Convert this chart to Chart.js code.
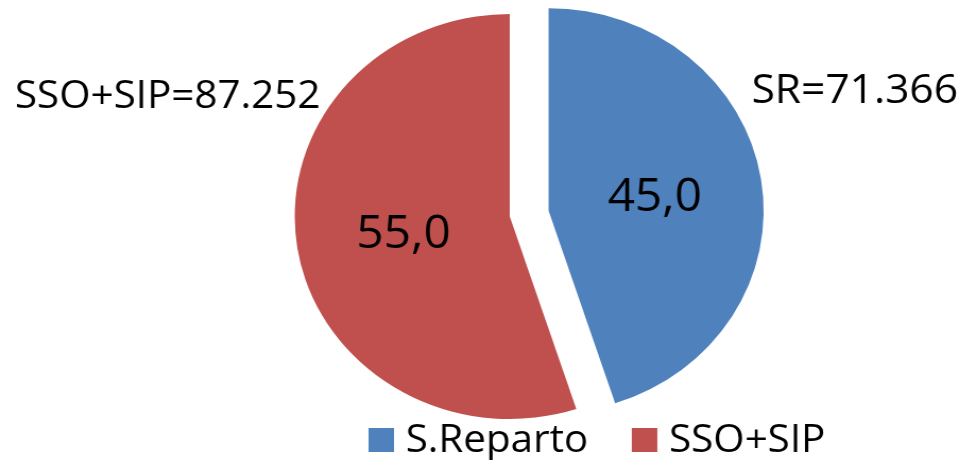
<!DOCTYPE html>
<html>
<head>
<meta charset="utf-8">
<script src="https://cdn.jsdelivr.net/npm/chart.js@4"></script>
<style>
  html, body { margin: 0; padding: 0; background: #fff; overflow: hidden; }
  /* the original picture is a bit wider than tall, so the whole chart is stretched */
  #wrap { width: 907px; height: 460px; transform: scaleX(1.062); transform-origin: 0 0; }
</style>
</head>
<body>
<div id="wrap"><canvas id="pieChart" width="907" height="460"></canvas></div>
<script>
// === DATA ===
const categories = ['S.Reparto', 'SSO+SIP'];
const shortNames = ['SR', 'SSO+SIP'];
const values = [71366, 87252];

const palette = ['#4F81BD', '#C0504D'];
const FONT = '"Open Sans", sans-serif';

function fmtThousands(v) {
  return String(v).replace(/\B(?=(\d{3})+(?!\d))/g, '.');
}

// pie whose slices are moved out without changing their radius
// (the built-in `offset` also grows the slice, which the original doesn't do)
const BasePie = Chart.PieController || Chart.registry.getController('pie');
class ExplodedPieController extends BasePie {
  draw() {
    const ctx = this.chart.ctx;
    const area = this.chart.chartArea;
    const explode = this.getDataset().explode || [];
    this._cachedMeta.data.forEach((arc, i) => {
      const d = explode[i] || 0;
      const mid = (arc.startAngle + arc.endAngle) / 2;
      ctx.save();
      ctx.translate(Math.cos(mid) * d, Math.sin(mid) * d);
      arc.draw(ctx, area);
      ctx.restore();
    });
  }
}
ExplodedPieController.id = 'explodedPie';
Chart.register(ExplodedPieController);

// percentages in the middle of each slice
const sliceLabels = {
  id: 'sliceLabels',
  afterDatasetsDraw(chart) {
    const { ctx } = chart;
    const meta = chart.getDatasetMeta(0);
    const explode = chart.data.datasets[0].explode || [];
    const total = values.reduce((a, b) => a + b, 0);
    ctx.save();
    ctx.font = '45px ' + FONT;
    ctx.fillStyle = '#000';
    ctx.textAlign = 'center';
    ctx.textBaseline = 'middle';
    meta.data.forEach((arc, i) => {
      const mid = (arc.startAngle + arc.endAngle) / 2;
      const d = (explode[i] || 0) + arc.outerRadius / 2;
      const pct = (values[i] / total * 100).toFixed(1).replace('.', ',');
      ctx.fillText(pct, arc.x + Math.cos(mid) * d, arc.y + Math.sin(mid) * d + 3);
    });
    ctx.restore();
  }
};

// "SR=71.366" on the right, "SSO+SIP=87.252" on the left
const totalsText = {
  id: 'totalsText',
  afterDraw(chart) {
    const { ctx, width } = chart;
    ctx.save();
    ctx.fillStyle = '#000';
    ctx.textBaseline = 'alphabetic';
    ctx.font = '40px ' + FONT;
    ctx.textAlign = 'right';
    ctx.fillText(`${shortNames[0]}=${fmtThousands(values[0])}`, width - 5, 103);
    ctx.font = '38px ' + FONT;
    ctx.textAlign = 'left';
    ctx.fillText(`${shortNames[1]}=${fmtThousands(values[1])}`, 14, 108);
    ctx.restore();
  }
};

// legend at the bottom, square boxes
const bottomLegend = {
  id: 'bottomLegend',
  afterDraw(chart) {
    const { ctx } = chart;
    const box = 24;
    let x = 347;
    const top = 428;
    ctx.save();
    ctx.font = '38px ' + FONT;
    ctx.textBaseline = 'alphabetic';
    ctx.textAlign = 'left';
    categories.forEach((label, i) => {
      ctx.fillStyle = palette[i];
      ctx.fillRect(x, top, box, box);
      ctx.fillStyle = '#000';
      ctx.fillText(label, x + box + 11, top + box);
      x += box + 11 + ctx.measureText(label).width + 41;
    });
    ctx.restore();
  }
};

new Chart(document.getElementById('pieChart'), {
  type: 'explodedPie',
  data: {
    labels: categories,
    datasets: [{
      data: values,
      backgroundColor: palette,
      borderWidth: 0,
      radius: 202.5,
      explode: [37, 0]
    }]
  },
  options: {
    responsive: false,
    animation: false,
    layout: { padding: { left: 53, right: 0, top: 0, bottom: 27 } },
    plugins: {
      legend: { display: false },
      tooltip: { enabled: false }
    }
  },
  plugins: [sliceLabels, totalsText, bottomLegend]
});
</script>
</body>
</html>
